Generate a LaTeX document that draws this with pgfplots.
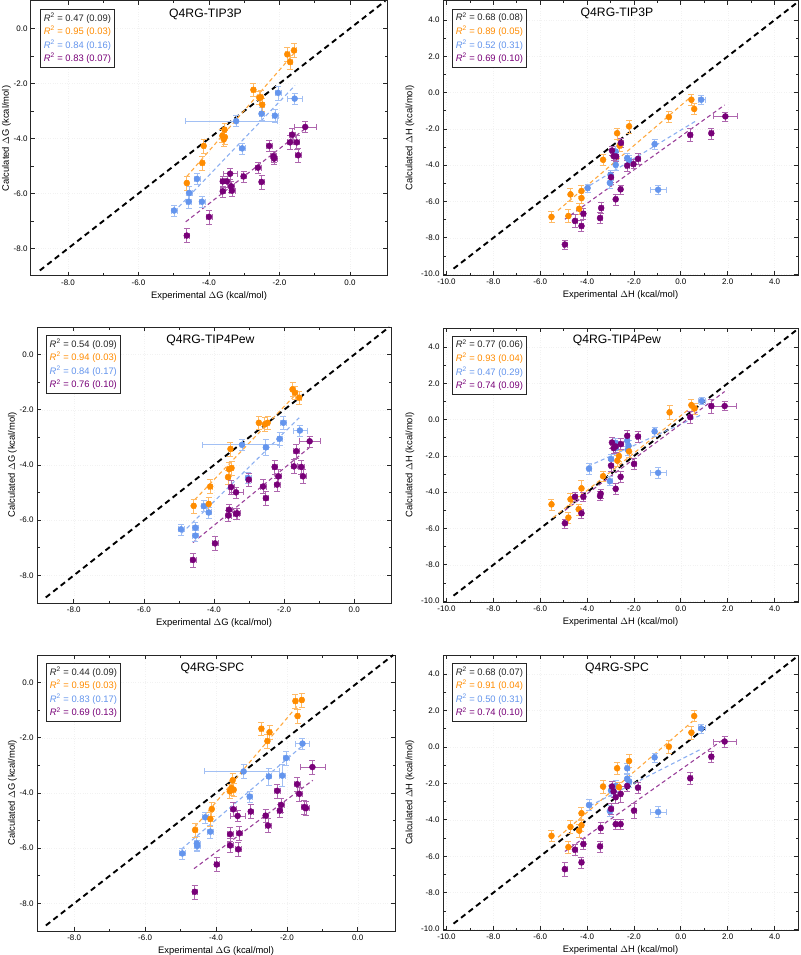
\documentclass[border=0pt]{standalone}
\usepackage{pgfplots}
\pgfplotsset{compat=1.18}
\usepackage{fontspec}
\setmainfont{Liberation Sans}
\definecolor{cor}{RGB}{255,140,0}
\definecolor{cbl}{RGB}{100,149,237}
\definecolor{cpu}{RGB}{120,0,120}
\newcommand{\rr}[2]{\textcolor{#1}{\textit{R}\textsuperscript{2} = #2}}
\newcommand{\rlegend}[4]{\node[draw=black!85, line width=0.8pt, fill=white, anchor=north west, align=left, inner sep=3.5pt, font=\fontsize{9.4}{13.6}\selectfont] at (rel axis cs:0.025,0.972) {\rr{black!85}{#1}\\\rr{cor}{#2}\\\rr{cbl}{#3}\\\rr{cpu}{#4}};}
\newcommand{\ptitle}[1]{\node[font=\fontsize{12.2}{14}\selectfont] at (rel axis cs:0.49,0.953) {#1};}
\pgfplotsset{
  base/.style={scale only axis, anchor=north west, tick align=inside,
    xtick pos=both, ytick pos=both, xticklabel pos=lower, yticklabel pos=left,
    minor x tick num=1, minor y tick num=1,
    axis line style={line width=1pt, black!85},
    major tick length=4pt, minor tick length=2.5pt,
    every tick/.style={black!85, line width=0.7pt},
    tick label style={font=\fontsize{8}{9}\selectfont},
    label style={font=\fontsize{9.4}{11}\selectfont},
    /pgf/number format/fixed, /pgf/number format/fixed zerofill,
    /pgf/number format/precision=1, /pgf/number format/assume math mode=true,
    grid=major, grid style={black!5, dotted},
    clip=false},
  gax/.style={base, xmin=-9.05, xmax=1.05, ymin=-9, ymax=1,
    xtick={-8,-6,-4,-2,0}, ytick={-8,-6,-4,-2,0}, ylabel shift=-4pt,
    xlabel={Experimental $\Delta$G (kcal/mol)}, ylabel={Calculated $\Delta$G (kcal/mol)}},
  hax/.style={base, xmin=-10.15, xmax=5, ymin=-10.05, ymax=5.05,
    xtick={-10,-8,...,4}, ytick={-10,-8,...,4},
    xlabel={Experimental $\Delta$H (kcal/mol)}, ylabel={Calculated $\Delta$H (kcal/mol)}},
  pt/.style={only marks, mark=*, mark size=3pt, color=#1,
    error bars/x dir=both, error bars/x explicit, error bars/y dir=both, error bars/y explicit,
    error bars/error bar style={#1!60, line width=0.8pt}},
  fit/.style={no marks, #1!75, dash pattern=on 4pt off 3pt, line width=1.1pt},
  diag/.style={no marks, black, line width=1.9pt, dash pattern=on 5.5pt off 4pt},
  /pgfplots/table/tb/.style={row sep=\\, x=x, y=y, x error plus=p, x error minus=m, y error=e},
}
\begin{document}
\begin{tikzpicture}
\path[use as bounding box] (0pt,0pt) rectangle (800pt,-955pt);
% ---------------- Panel 1 -----------------
\begin{axis}[gax, at={(31pt,-1pt)}, width=356pt, height=275pt]
\addplot[diag] coordinates {(-8.8,-8.8) (1,1)};
\addplot[fit=cor] coordinates {(-4.63,-5.38) (-1.6,-0.92)};
\addplot[fit=cbl] coordinates {(-4.86,-6.49) (-1.56,-2.07)};
\addplot[fit=cpu] coordinates {(-4.66,-7.03) (-1.27,-3.64)};
\addplot[pt=cbl] table[tb] {x y m p e\\
-2.04 -2.34 0.08 0.08 0.25\\
-1.57 -2.55 0.2 0.2 0.2\\
-3.23 -3.37 1.44 1.17 0.2\\
-2.51 -3.10 0.08 0.08 0.25\\
-2.13 -3.17 0.08 0.08 0.25\\
-3.06 -4.36 0.08 0.08 0.2\\
-4.34 -5.47 0.08 0.08 0.2\\
-4.56 -5.98 0.08 0.08 0.25\\
-4.58 -6.30 0.08 0.08 0.25\\
-4.20 -6.30 0.08 0.08 0.2\\
-4.99 -6.62 0.08 0.08 0.2\\
};
\addplot[pt=cor] table[tb] {x y m p e\\
-1.78 -0.94 0.05 0.05 0.25\\
-1.59 -0.80 0.05 0.05 0.25\\
-1.70 -1.22 0.05 0.05 0.25\\
-2.74 -2.23 0.05 0.05 0.25\\
-2.57 -2.52 0.05 0.05 0.25\\
-2.53 -2.50 0.05 0.05 0.25\\
-2.49 -2.77 0.05 0.05 0.25\\
-3.56 -3.68 0.05 0.05 0.25\\
-3.62 -3.90 0.05 0.05 0.25\\
-3.55 -3.95 0.05 0.05 0.25\\
-3.58 -4.03 0.05 0.05 0.25\\
-4.15 -4.27 0.05 0.05 0.25\\
-4.19 -4.89 0.05 0.05 0.25\\
-4.63 -5.62 0.05 0.05 0.25\\
};
\addplot[pt=cpu] table[tb] {x y m p e\\
-1.27 -3.58 0.3 0.3 0.2\\
-1.64 -3.86 0.08 0.08 0.25\\
-1.70 -4.14 0.08 0.08 0.25\\
-1.51 -4.14 0.08 0.08 0.25\\
-1.47 -4.61 0.08 0.08 0.25\\
-2.29 -4.27 0.08 0.08 0.2\\
-2.17 -4.65 0.08 0.08 0.2\\
-2.15 -4.73 0.08 0.08 0.2\\
-2.61 -5.06 0.08 0.08 0.2\\
-2.51 -5.58 0.08 0.08 0.25\\
-3.02 -5.38 0.08 0.08 0.2\\
-3.40 -5.28 0.2 0.2 0.2\\
-3.61 -5.56 0.08 0.08 0.2\\
-3.49 -5.56 0.08 0.08 0.2\\
-3.61 -5.92 0.08 0.08 0.2\\
-3.35 -5.90 0.08 0.08 0.2\\
-3.37 -5.74 0.08 0.08 0.2\\
-4.00 -6.85 0.08 0.08 0.25\\
-4.63 -7.53 0.08 0.08 0.25\\
};
\rlegend{0.47 (0.09)}{0.95 (0.03)}{0.84 (0.16)}{0.83 (0.07)}
\ptitle{Q4RG-TIP3P}
\end{axis}
% ---------------- Panel 2 -----------------
\begin{axis}[hax, at={(443pt,-1pt)}, width=355pt, height=274pt]
\addplot[diag] coordinates {(-9.7,-9.7) (5,5)};
\addplot[fit=cor] coordinates {(-5.24,-6.49) (0.45,-0.21)};
\addplot[fit=cbl] coordinates {(-3.88,-5.11) (0.67,-1.54)};
\addplot[fit=cpu] coordinates {(-4.95,-6.98) (1.87,-0.68)};
\addplot[pt=cbl] table[tb] {x y m p e\\
0.87 -0.39 0.15 0.15 0.25\\
-1.12 -2.84 0.08 0.08 0.28\\
-2.78 -3.25 0.08 0.08 0.28\\
-2.29 -3.61 0.08 0.08 0.28\\
-2.21 -3.74 0.08 0.08 0.28\\
-2.78 -3.98 0.08 0.08 0.28\\
-3.00 -4.53 0.08 0.08 0.28\\
-3.03 -4.97 0.08 0.08 0.28\\
-3.98 -5.26 0.08 0.08 0.2\\
-0.97 -5.35 0.35 0.35 0.25\\
};
\addplot[pt=cor] table[tb] {x y m p e\\
0.45 -0.39 0.05 0.05 0.3\\
0.57 -0.90 0.05 0.05 0.3\\
-0.51 -1.34 0.05 0.05 0.3\\
-2.21 -1.86 0.05 0.05 0.35\\
-2.72 -2.24 0.05 0.05 0.3\\
-2.61 -2.92 0.05 0.05 0.3\\
-3.32 -3.70 0.05 0.05 0.3\\
-4.24 -5.42 0.05 0.05 0.3\\
-4.71 -5.61 0.05 0.05 0.35\\
-4.24 -5.81 0.05 0.05 0.3\\
-4.34 -6.40 0.05 0.05 0.3\\
-4.80 -6.80 0.05 0.05 0.35\\
-5.52 -6.85 0.05 0.05 0.3\\
};
\addplot[pt=cpu] table[tb] {x y m p e\\
1.90 -1.31 0.5 0.5 0.25\\
1.30 -2.24 0.08 0.08 0.3\\
0.40 -2.33 0.08 0.08 0.35\\
-2.56 -2.77 0.08 0.08 0.25\\
-2.94 -3.19 0.08 0.08 0.25\\
-2.87 -3.50 0.08 0.08 0.25\\
-2.76 -3.52 0.08 0.08 0.25\\
-1.83 -3.65 0.08 0.08 0.3\\
-2.02 -3.94 0.08 0.08 0.25\\
-2.29 -4.02 0.08 0.08 0.3\\
-2.98 -4.66 0.08 0.08 0.3\\
-2.57 -5.33 0.08 0.08 0.25\\
-2.78 -5.88 0.08 0.08 0.3\\
-3.40 -6.36 0.08 0.08 0.3\\
-3.45 -6.91 0.08 0.08 0.3\\
-4.16 -6.67 0.08 0.08 0.3\\
-4.52 -7.07 0.08 0.08 0.35\\
-4.24 -7.35 0.08 0.08 0.3\\
-4.95 -8.37 0.08 0.08 0.25\\
};
\rlegend{0.68 (0.08)}{0.89 (0.05)}{0.52 (0.31)}{0.69 (0.10)}
\ptitle{Q4RG-TIP3P}
\end{axis}
% ---------------- Panel 3 -----------------
\begin{axis}[gax, at={(37pt,-327pt)}, width=354pt, height=276pt]
\addplot[diag] coordinates {(-8.8,-8.8) (1,1)};
\addplot[fit=cor] coordinates {(-4.55,-5.26) (-1.62,-1.38)};
\addplot[fit=cbl] coordinates {(-4.92,-6.47) (-1.57,-2.29)};
\addplot[fit=cpu] coordinates {(-4.60,-6.81) (-1.29,-3.38)};
\addplot[pt=cbl] table[tb] {x y m p e\\
-2.02 -2.47 0.08 0.08 0.25\\
-1.55 -2.75 0.2 0.2 0.2\\
-2.13 -3.05 0.08 0.08 0.25\\
-3.20 -3.27 1.13 1.07 0.2\\
-2.52 -3.36 0.08 0.08 0.3\\
-3.03 -4.47 0.08 0.08 0.2\\
-4.29 -5.49 0.08 0.08 0.2\\
-4.15 -5.72 0.08 0.08 0.2\\
-4.94 -6.33 0.08 0.08 0.2\\
-4.53 -6.27 0.08 0.08 0.2\\
-4.53 -6.56 0.08 0.08 0.2\\
};
\addplot[pt=cor] table[tb] {x y m p e\\
-1.76 -1.26 0.05 0.05 0.25\\
-1.69 -1.38 0.05 0.05 0.25\\
-1.57 -1.56 0.05 0.05 0.25\\
-2.72 -2.47 0.05 0.05 0.25\\
-2.55 -2.53 0.05 0.05 0.25\\
-2.47 -2.47 0.05 0.05 0.25\\
-3.53 -3.42 0.05 0.05 0.25\\
-3.57 -4.15 0.05 0.05 0.25\\
-3.50 -4.11 0.05 0.05 0.25\\
-3.60 -4.44 0.05 0.05 0.25\\
-4.11 -4.78 0.05 0.05 0.25\\
-4.15 -5.41 0.05 0.05 0.25\\
-4.58 -5.48 0.05 0.05 0.25\\
};
\addplot[pt=cpu] table[tb] {x y m p e\\
-1.27 -3.14 0.3 0.3 0.2\\
-1.65 -3.50 0.08 0.08 0.25\\
-1.72 -4.05 0.08 0.08 0.25\\
-1.51 -4.07 0.08 0.08 0.25\\
-1.46 -4.41 0.08 0.08 0.25\\
-2.27 -4.07 0.08 0.08 0.25\\
-2.16 -4.41 0.08 0.08 0.25\\
-2.20 -4.71 0.08 0.08 0.25\\
-2.60 -4.78 0.08 0.08 0.25\\
-2.52 -5.20 0.08 0.08 0.25\\
-3.01 -4.53 0.08 0.08 0.25\\
-3.51 -4.80 0.08 0.08 0.25\\
-3.37 -4.99 0.2 0.2 0.2\\
-3.57 -5.62 0.08 0.08 0.2\\
-3.59 -5.83 0.08 0.08 0.2\\
-3.34 -5.75 0.08 0.08 0.2\\
-3.37 -5.77 0.08 0.08 0.2\\
-3.97 -6.84 0.08 0.08 0.25\\
-4.60 -7.44 0.08 0.08 0.25\\
};
\rlegend{0.54 (0.09)}{0.94 (0.03)}{0.84 (0.17)}{0.76 (0.10)}
\ptitle{Q4RG-TIP4Pew}
\end{axis}
% ---------------- Panel 4 -----------------
\begin{axis}[hax, at={(443pt,-328pt)}, width=355pt, height=274pt]
\addplot[diag] coordinates {(-9.7,-9.7) (5,5)};
\addplot[fit=cor] coordinates {(-5.45,-5.40) (0.66,0.90)};
\addplot[fit=cbl] coordinates {(-3.96,-2.57) (0.87,0.26)};
\addplot[fit=cpu] coordinates {(-4.95,-5.0) (1.87,1.55)};
\addplot[pt=cbl] table[tb] {x y m p e\\
0.89 1.03 0.15 0.15 0.2\\
-1.12 -0.65 0.08 0.08 0.25\\
-2.29 -1.16 0.08 0.08 0.28\\
-2.78 -1.29 0.08 0.08 0.28\\
-2.78 -1.57 0.08 0.08 0.28\\
-2.23 -1.44 0.08 0.08 0.28\\
-2.27 -1.66 0.08 0.08 0.28\\
-2.98 -2.17 0.08 0.08 0.28\\
-3.92 -2.70 0.08 0.08 0.28\\
-3.03 -3.39 0.08 0.08 0.25\\
-0.97 -2.93 0.35 0.35 0.3\\
};
\addplot[pt=cor] table[tb] {x y m p e\\
0.45 0.80 0.05 0.05 0.35\\
0.59 0.62 0.05 0.05 0.3\\
-0.48 0.40 0.05 0.05 0.4\\
-2.21 -1.75 0.05 0.05 0.3\\
-2.64 -2.01 0.05 0.05 0.3\\
-2.71 -2.26 0.05 0.05 0.3\\
-3.32 -3.12 0.05 0.05 0.3\\
-4.24 -3.79 0.05 0.05 0.45\\
-4.71 -4.39 0.05 0.05 0.35\\
-4.36 -4.94 0.05 0.05 0.3\\
-4.80 -5.40 0.05 0.05 0.3\\
-5.52 -4.67 0.05 0.05 0.3\\
};
\addplot[pt=cpu] table[tb] {x y m p e\\
1.87 0.75 0.5 0.5 0.25\\
1.30 0.75 0.08 0.08 0.4\\
0.40 0.14 0.08 0.08 0.35\\
-2.29 -0.89 0.08 0.08 0.3\\
-1.83 -0.93 0.08 0.08 0.3\\
-2.94 -1.26 0.08 0.08 0.3\\
-2.87 -1.57 0.08 0.08 0.3\\
-2.78 -1.48 0.08 0.08 0.3\\
-2.56 -1.35 0.08 0.08 0.3\\
-2.98 -2.53 0.08 0.08 0.3\\
-2.00 -2.44 0.08 0.08 0.3\\
-2.57 -3.15 0.08 0.08 0.3\\
-2.78 -3.81 0.08 0.08 0.3\\
-3.42 -4.08 0.08 0.08 0.25\\
-3.45 -4.21 0.08 0.08 0.25\\
-4.16 -4.25 0.08 0.08 0.25\\
-4.52 -4.25 0.08 0.08 0.25\\
-4.24 -5.16 0.08 0.08 0.25\\
-4.95 -5.71 0.08 0.08 0.25\\
};
\rlegend{0.77 (0.06)}{0.93 (0.04)}{0.47 (0.29)}{0.74 (0.09)}
\ptitle{Q4RG-TIP4Pew}
\end{axis}
% ---------------- Panel 5 -----------------
\begin{axis}[gax, at={(37pt,-655pt)}, width=358pt, height=276pt]
\addplot[diag] coordinates {(-8.8,-8.8) (1,1)};
\addplot[fit=cor] coordinates {(-4.60,-5.24) (-1.67,-0.79)};
\addplot[fit=cbl] coordinates {(-4.98,-6.04) (-1.58,-2.31)};
\addplot[fit=cpu] coordinates {(-4.62,-6.74) (-1.27,-3.54)};
\addplot[pt=cbl] table[tb] {x y m p e\\
-1.56 -2.21 0.2 0.2 0.2\\
-2.02 -2.73 0.08 0.08 0.25\\
-3.22 -3.22 1.12 0.99 0.25\\
-2.51 -3.40 0.08 0.08 0.3\\
-2.13 -3.37 0.08 0.08 0.4\\
-3.05 -4.13 0.08 0.08 0.2\\
-4.30 -4.88 0.08 0.08 0.2\\
-4.16 -5.40 0.08 0.08 0.25\\
-4.54 -5.83 0.08 0.08 0.25\\
-4.53 -5.92 0.08 0.08 0.2\\
-4.95 -6.19 0.08 0.08 0.2\\
};
\addplot[pt=cor] table[tb] {x y m p e\\
-1.76 -0.67 0.05 0.05 0.25\\
-1.58 -0.63 0.05 0.05 0.25\\
-1.70 -1.21 0.05 0.05 0.25\\
-2.72 -1.67 0.05 0.05 0.25\\
-2.49 -1.80 0.05 0.05 0.25\\
-2.55 -2.12 0.05 0.05 0.25\\
-3.53 -3.54 0.05 0.05 0.25\\
-3.50 -3.88 0.05 0.05 0.25\\
-3.61 -3.94 0.05 0.05 0.25\\
-3.56 -3.82 0.05 0.05 0.25\\
-4.12 -4.58 0.05 0.05 0.25\\
-4.16 -4.94 0.05 0.05 0.25\\
-4.59 -5.34 0.05 0.05 0.25\\
};
\addplot[pt=cpu] table[tb] {x y m p e\\
-1.28 -3.06 0.35 0.35 0.25\\
-1.71 -3.68 0.08 0.08 0.25\\
-1.65 -4.03 0.08 0.08 0.25\\
-1.51 -4.51 0.08 0.08 0.25\\
-1.46 -4.55 0.08 0.08 0.25\\
-2.27 -3.92 0.08 0.08 0.25\\
-2.16 -4.43 0.08 0.08 0.25\\
-2.20 -4.64 0.08 0.08 0.25\\
-2.60 -4.82 0.08 0.08 0.25\\
-2.53 -5.18 0.08 0.08 0.25\\
-3.02 -4.67 0.08 0.08 0.25\\
-3.51 -4.59 0.08 0.08 0.25\\
-3.39 -4.83 0.2 0.2 0.2\\
-3.60 -5.49 0.08 0.08 0.25\\
-3.34 -5.46 0.08 0.08 0.25\\
-3.60 -5.90 0.08 0.08 0.25\\
-3.37 -6.04 0.08 0.08 0.25\\
-3.98 -6.59 0.08 0.08 0.25\\
-4.60 -7.58 0.08 0.08 0.25\\
};
\rlegend{0.44 (0.09)}{0.95 (0.03)}{0.83 (0.17)}{0.69 (0.13)}
\ptitle{Q4RG-SPC}
\end{axis}
% ---------------- Panel 6 -----------------
\begin{axis}[hax, at={(443pt,-655pt)}, width=355pt, height=275pt]
\addplot[diag] coordinates {(-9.7,-9.7) (5,5)};
\addplot[fit=cor] coordinates {(-5.24,-4.96) (0.52,1.43)};
\addplot[fit=cbl] coordinates {(-3.88,-3.23) (0.80,-0.16)};
\addplot[fit=cpu] coordinates {(-4.95,-5.74) (1.77,0.37)};
\addplot[pt=cbl] table[tb] {x y m p e\\
0.87 1.02 0.15 0.15 0.25\\
-1.12 -0.57 0.08 0.08 0.25\\
-2.29 -1.17 0.08 0.08 0.3\\
-2.29 -1.74 0.08 0.08 0.3\\
-2.78 -2.14 0.08 0.08 0.3\\
-2.21 -1.90 0.08 0.08 0.3\\
-2.98 -2.39 0.08 0.08 0.3\\
-2.87 -2.44 0.08 0.08 0.3\\
-3.92 -3.19 0.08 0.08 0.3\\
-3.03 -3.52 0.08 0.08 0.3\\
-0.97 -3.57 0.35 0.35 0.3\\
};
\addplot[pt=cor] table[tb] {x y m p e\\
0.57 1.70 0.05 0.05 0.3\\
0.45 0.79 0.05 0.05 0.35\\
-0.51 0.02 0.05 0.05 0.35\\
-2.21 -0.77 0.05 0.05 0.35\\
-2.72 -1.17 0.05 0.05 0.35\\
-3.32 -2.17 0.05 0.05 0.35\\
-2.64 -2.21 0.05 0.05 0.3\\
-4.24 -3.64 0.05 0.05 0.35\\
-4.24 -4.30 0.05 0.05 0.3\\
-4.71 -4.39 0.05 0.05 0.35\\
-4.34 -4.59 0.05 0.05 0.35\\
-5.52 -4.88 0.05 0.05 0.3\\
-4.80 -5.50 0.05 0.05 0.35\\
};
\addplot[pt=cpu] table[tb] {x y m p e\\
1.87 0.30 0.5 0.5 0.3\\
1.30 -0.53 0.08 0.08 0.3\\
0.40 -1.72 0.08 0.08 0.35\\
-2.94 -2.17 0.08 0.08 0.3\\
-2.87 -2.44 0.08 0.08 0.3\\
-2.78 -2.76 0.08 0.08 0.3\\
-2.57 -2.58 0.08 0.08 0.45\\
-2.29 -2.14 0.08 0.08 0.3\\
-1.83 -2.23 0.08 0.08 0.3\\
-2.98 -3.40 0.08 0.08 0.3\\
-2.00 -3.49 0.08 0.08 0.4\\
-2.78 -4.24 0.08 0.08 0.3\\
-2.57 -4.24 0.08 0.08 0.3\\
-3.42 -4.45 0.08 0.08 0.3\\
-4.16 -5.33 0.08 0.08 0.3\\
-4.52 -5.64 0.08 0.08 0.3\\
-3.45 -5.46 0.08 0.08 0.3\\
-4.24 -6.34 0.08 0.08 0.3\\
-4.95 -6.71 0.08 0.08 0.4\\
};
\rlegend{0.68 (0.07)}{0.91 (0.04)}{0.50 (0.31)}{0.74 (0.10)}
\ptitle{Q4RG-SPC}
\end{axis}
\end{tikzpicture}
\end{document}
